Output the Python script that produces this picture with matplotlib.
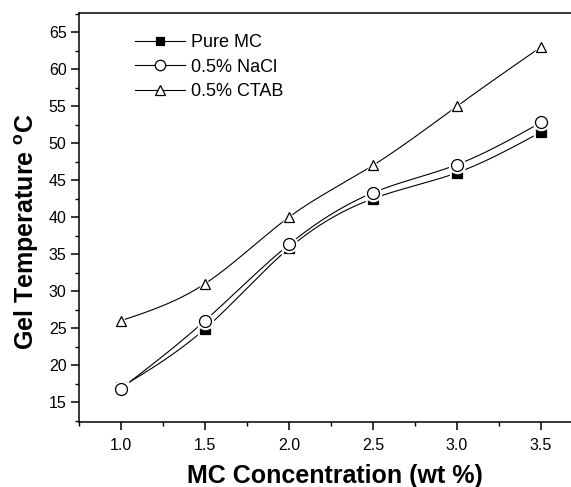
import numpy as np
import matplotlib
matplotlib.use("Agg")
import matplotlib.pyplot as plt
from matplotlib.ticker import MultipleLocator

conc = [1.0, 1.5, 2.0, 2.5, 3.0, 3.5]
pure_mc = [17.0, 24.9, 35.8, 42.5, 46.0, 51.5]
nacl = [16.8, 26.0, 36.3, 43.3, 47.1, 52.8]
ctab = [26.0, 31.0, 40.0, 47.0, 55.0, 63.0]
labels = ["Pure MC", "0.5% NaCl", "0.5% CTAB"]


def natural_spline(x, y, n=300):
    x = np.asarray(x, float); y = np.asarray(y, float)
    k = len(x); h = np.diff(x)
    A = np.zeros((k, k)); b = np.zeros(k)
    A[0, 0] = A[-1, -1] = 1
    for i in range(1, k - 1):
        A[i, i - 1] = h[i - 1]; A[i, i] = 2 * (h[i - 1] + h[i]); A[i, i + 1] = h[i]
        b[i] = 6 * ((y[i + 1] - y[i]) / h[i] - (y[i] - y[i - 1]) / h[i - 1])
    M = np.linalg.solve(A, b)
    xs = np.linspace(x[0], x[-1], n)
    idx = np.clip(np.searchsorted(x, xs) - 1, 0, k - 2)
    x0, x1 = x[idx], x[idx + 1]; hh = x1 - x0
    ys = (M[idx] * (x1 - xs) ** 3 / (6 * hh) + M[idx + 1] * (xs - x0) ** 3 / (6 * hh)
          + (y[idx] / hh - M[idx] * hh / 6) * (x1 - xs)
          + (y[idx + 1] / hh - M[idx + 1] * hh / 6) * (xs - x0))
    return xs, ys


plt.rcParams['font.family'] = ['Liberation Sans', 'DejaVu Sans']
fig = plt.figure(figsize=(5.71, 4.87), dpi=100)
ax = fig.add_axes([79 / 571, 1 - 422 / 487, 504 / 571, 409 / 487])

series = [(pure_mc, 's', 7.0, 'black'), (nacl, 'o', 8.6, 'white'), (ctab, '^', 7.5, 'white')]
for i, (vals, m, ms, fc) in enumerate(series):
    xs, ys = natural_spline(conc, vals)
    ax.plot(xs, ys, color='black', lw=0.8, zorder=2)
    ax.plot(conc, vals, ls='none', marker=m, ms=ms + 3, mfc='white', mec='white', zorder=3 + 2 * i)
    ax.plot(conc, vals, ls='none', marker=m, ms=ms, mfc=fc, mec='black', mew=0.9, zorder=4 + 2 * i)

# legend handles
leg_ms = [5.5, 7.5, 7.0]
handles = []
for (vals, m, ms, fc), lab, lms in zip(series, labels, leg_ms):
    h, = ax.plot([], [], color='black', lw=0.8, marker=m, ms=lms, mfc=fc, mec='black', mew=0.9, label=lab)
    handles.append(h)
fig.legend(handles=handles, loc='upper left', bbox_to_anchor=(135 / 571, 1 - 34 / 487),
           frameon=False, fontsize=13, handlelength=2.75, handletextpad=0.35,
           labelspacing=0.42, borderpad=0, borderaxespad=0)

ax.set_xlim(0.75, 3.75)
ax.set_ylim(12.3, 67.6)
ax.xaxis.set_major_locator(MultipleLocator(0.5))
ax.xaxis.set_minor_locator(MultipleLocator(0.25))
ax.yaxis.set_major_locator(MultipleLocator(5))
ax.yaxis.set_minor_locator(MultipleLocator(2.5))
ax.set_xticks(conc)
ax.set_xticklabels([f"{v:.1f}" for v in conc])
ax.tick_params(which='major', direction='out', length=5.5, width=1.1, labelsize=11.5)
ax.tick_params(which='minor', direction='out', length=3, width=1.0)
ax.tick_params(axis='x', which='major', pad=6)
ax.tick_params(axis='y', which='major', pad=3.5)
for s in ax.spines.values():
    s.set_linewidth(1.1)

fig.text(27 / 571, 1 - 232 / 487, "Gel Temperature $^\\mathregular{o}$C", rotation=90,
         ha='center', va='center', fontsize=18, fontweight='bold')
fig.text(335 / 571, 1 - 476 / 487, "MC Concentration (wt %)", ha='center', va='center',
         fontsize=18, fontweight='bold')

fig.savefig("out.png", dpi=100)
